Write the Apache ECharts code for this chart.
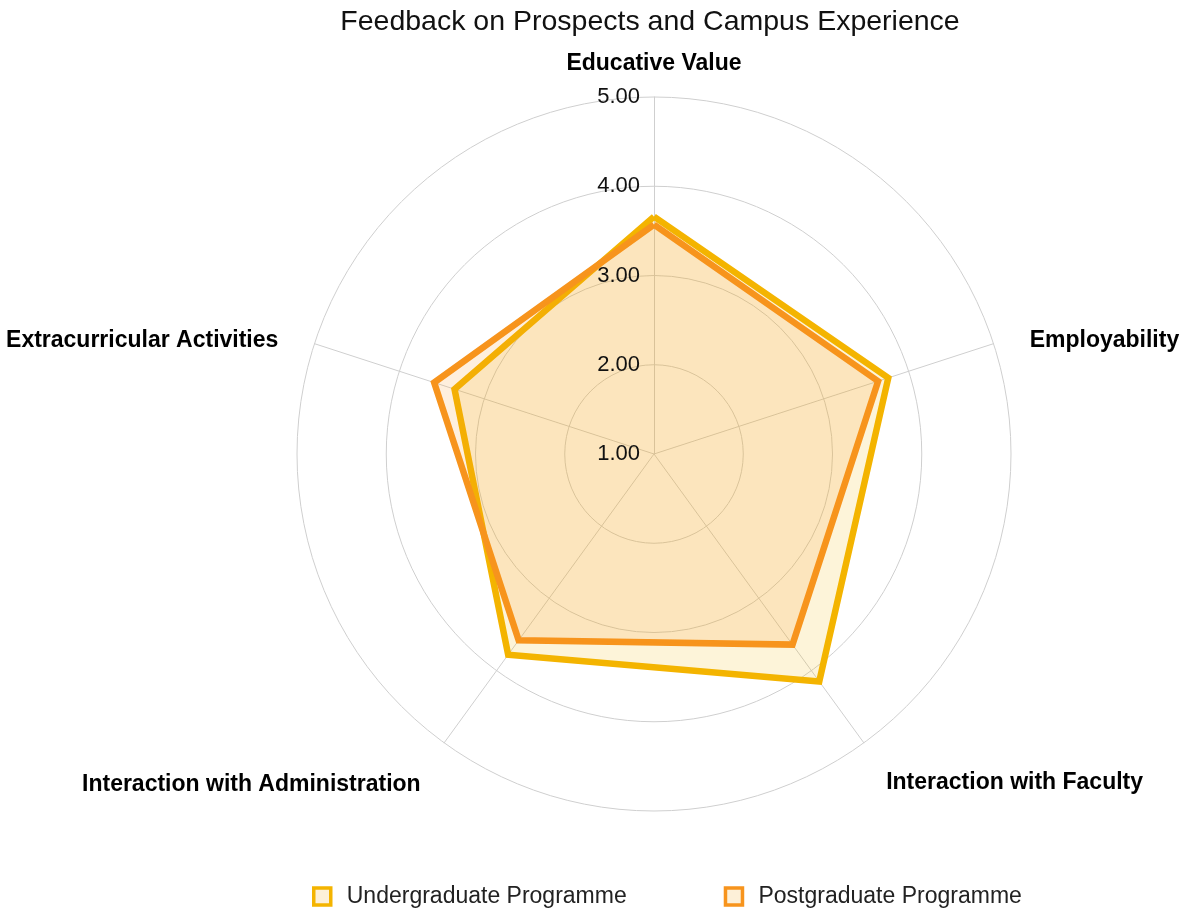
<!DOCTYPE html>
<html>
<head>
    <meta charset="utf-8">
    <script src="https://cdn.jsdelivr.net/npm/echarts@6/dist/echarts.min.js"></script>
    <style>
        * { padding: 0; margin: 0 }
        body, html { height: 100%; width: 100% }
        #container { height: 911px; width: 1181px }
    </style>
</head>
<body>
    <div id="container"></div>
<script>
    // clockwise from the top, as in the picture
    const indicators = ['Educative Value', 'Employability', 'Interaction with Faculty', 'Interaction with Administration', 'Extracurricular Activities'];
    const seriesNames = ['Undergraduate Programme', 'Postgraduate Programme'];
    const undergraduate = [3.66, 3.76, 4.15, 3.78, 3.35];
    const postgraduate = [3.57, 3.64, 3.64, 3.58, 3.59];
    const axisTicks = [1, 2, 3, 4, 5];
    const colors = ['#f4b400', '#f7941d'];

    // echarts lays radar axes out counter-clockwise, so walk the arrays backwards after the first
    const order = [0, 4, 3, 2, 1];
    const nameGaps = [22, 38, 40, 38, 38];

    const myChart = echarts.init(document.getElementById('container'));

    const font = 'Liberation Sans';
    const tickMin = axisTicks[0];
    const tickMax = axisTicks[axisTicks.length - 1];

    const baseRadar = {
        center: [654, 454],
        radius: 357,
        shape: 'circle',
        splitNumber: axisTicks.length - 1
    };

    const option = {
        title: {
            text: 'Feedback on Prospects and Campus Experience',
            left: 645,
            textAlign: 'center',
            top: 3,
            textStyle: { fontFamily: font, fontSize: 28.5, fontWeight: 'normal', color: '#111' }
        },
        legend: {
            bottom: -2,
            left: 307,
            itemGap: 97,
            itemWidth: 17,
            itemHeight: 17,
            icon: 'rect',
            textStyle: { fontFamily: font, fontSize: 23, color: '#222', padding: [0, 0, 0, 11] },
            data: seriesNames.map((n, i) => ({
                name: n,
                itemStyle: { color: '#fdf0d8', borderColor: colors[i], borderWidth: 3.5 }
            }))
        },
        radar: [
            Object.assign({}, baseRadar, {
                z: 1,
                axisName: {
                    formatter: '{n|{value}}',
                    rich: {
                        n: { color: '#000', fontFamily: font, fontSize: 23, fontWeight: 'bold', padding: [18, 0, 0, 0] }
                    }
                },
                axisLine: { lineStyle: { color: '#cfcfcf', width: 1 } },
                splitLine: { lineStyle: { color: '#cfcfcf', width: 1 } },
                splitArea: { show: false },
                axisTick: { show: false },
                axisLabel: { show: false },
                indicator: order.map((k, j) => ({
                    name: indicators[k],
                    min: tickMin,
                    max: tickMax,
                    nameGap: nameGaps[j]
                }))
            }),
            Object.assign({}, baseRadar, {
                z: 10,
                axisName: { show: false },
                axisLine: { show: false },
                splitLine: { show: false },
                splitArea: { show: false },
                axisTick: { show: false },
                axisLabel: { show: false },
                indicator: order.map((k, j) => {
                    const ind = { name: '', min: tickMin, max: tickMax };
                    if (j === 0) {
                        ind.axisLabel = {
                            show: true,
                            margin: 14,
                            color: '#111',
                            fontFamily: font,
                            fontSize: 22,
                            formatter: v => v.toFixed(2)
                        };
                    }
                    return ind;
                })
            })
        ],
        series: [{
            type: 'radar',
            radarIndex: 0,
            z: 2,
            symbol: 'none',
            data: [
                {
                    name: seriesNames[0],
                    value: order.map(k => undergraduate[k]),
                    lineStyle: { color: colors[0], width: 6.5, join: 'miter' },
                    itemStyle: { color: colors[0] },
                    areaStyle: { color: colors[0], opacity: 0.15 }
                },
                {
                    name: seriesNames[1],
                    value: order.map(k => postgraduate[k]),
                    lineStyle: { color: colors[1], width: 6.5, join: 'miter' },
                    itemStyle: { color: colors[1] },
                    areaStyle: { color: colors[1], opacity: 0.15 }
                }
            ]
        }]
    };

    myChart.setOption(option);
</script>
</body>
</html>
